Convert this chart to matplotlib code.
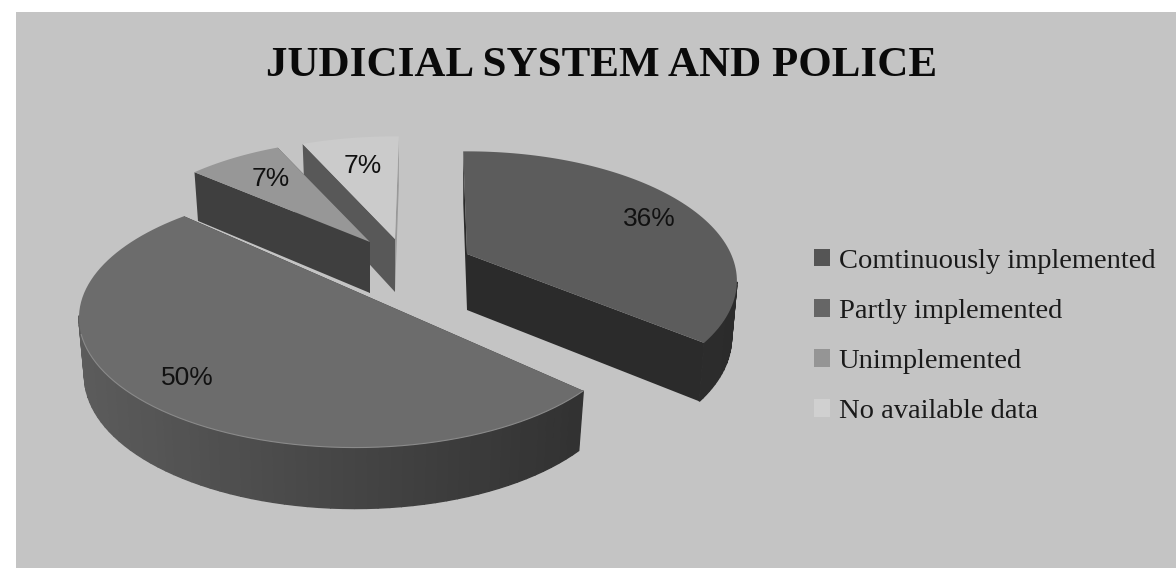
# Exploded 3D-look pie for the judicial system and police scores
import numpy as np
import matplotlib
matplotlib.use('Agg')
import matplotlib.pyplot as plt
from matplotlib.patches import Patch, Rectangle

# Data
categories = ['Comtinuously implemented', 'Partly implemented', 'Unimplemented', 'No available data']
shares = [36, 50, 7, 7]

# Wedge styling, one entry per category
apex_x = [467, 355, 370, 395]
apex_y = [254, 291, 242, 239]
half_width = [264, 270, 258, 268]
twist = [-1, 4, 0, 1]
depth = [56, 57, 51, 53]
top_color = ['#5c5c5c', '#6c6c6c', '#979797', '#cbcbcb']
cut_color = ['#2b2b2b', '#333333', '#3f3f3f', '#585858']
rim_left = [0.20, 0.36, 0.30, 0.55]
rim_right = [0.17, 0.18, 0.25, 0.60]
key_color = ['#555555', '#666666', '#959595', '#d0d0d0']

label_x = [649, 187, 271, 363]
label_y = [219, 378, 179, 166]

half_height = 124
persp = 0.208


def project(theta, a):
    # theta in degrees, clockwise from twelve o'clock, on the tilted disc
    t = np.radians(theta)
    w = 1 + persp * np.cos(t)
    return a * np.sin(t) / w, -half_height * np.cos(t) / w


def lower(x, y, theta, d):
    # matching point on the underside of the slab
    t = np.radians(theta)
    return 0.98 * x, y + d * (1 - 0.07 * np.cos(t))


fig = plt.figure(figsize=(11.76, 5.68), dpi=100, facecolor='white')
ax = fig.add_axes([0, 0, 1, 1])
ax.set_xlim(0, 1176)
ax.set_ylim(568, 0)
ax.axis('off')
ax.add_patch(Rectangle((16, 12), 1160, 556, color='#c4c4c4', lw=0, zorder=0))

edges = np.concatenate([[0], np.cumsum(shares)]) * 3.6

# back wedges first so the big slice overlaps them
for order, i in enumerate([3, 2, 1, 0]):
    base = 2 + order * 3
    cx, cy = apex_x[i], apex_y[i]
    a = half_width[i]
    angles = np.linspace(edges[i], edges[i + 1], 90) + twist[i]
    X, Y = project(angles, a)
    LX, LY = lower(X, Y, angles, depth[i])
    ax_, ay_ = lower(0.0, 0.0, 90.0, depth[i])

    # the two flat cut faces
    for j in [0, -1]:
        ax.fill(cx + np.array([0, X[j], LX[j], ax_]),
                cy + np.array([0, Y[j], LY[j], ay_]),
                color='#999999' if (i == 3 and j == -1) else cut_color[i],
                lw=0, zorder=base)

    # outer rim, shaded strip by strip; only the part facing the viewer
    span = 1.022 * a
    for j in range(len(angles) - 1):
        if np.cos(np.radians(angles[j])) > -0.21:
            continue
        g = np.interp(X[j], [-span, span], [rim_left[i], rim_right[i]])
        ax.fill(cx + np.array([X[j], X[j + 1], LX[j + 1], LX[j]]),
                cy + np.array([Y[j], Y[j + 1], LY[j + 1], LY[j]]),
                color=str(g), ec=str(g), lw=1.0, zorder=base + 1)

    # top face
    ax.fill(cx + np.concatenate([[0], X]), cy + np.concatenate([[0], Y]),
            color=top_color[i], lw=0, zorder=base + 2)

    # soft bevel along the front of the big slice
    if i == 1:
        front = (Y > 40)
        ax.plot(cx + X[front], cy + Y[front], color='#8a8a8a', lw=0.8, zorder=base + 2)

    ax.text(label_x[i], label_y[i], '%d%%' % shares[i], fontsize=19, family='Liberation Sans',
            color='#111111', ha='center', va='center', zorder=30)

ax.text(602, 66, 'JUDICIAL SYSTEM AND POLICE', fontsize=31, fontweight='bold',
        family='Liberation Serif', color='#0a0a0a', ha='center', va='center')

handles = [Patch(facecolor=c, edgecolor='none') for c in key_color]
ax.legend(handles, categories, loc='upper left', bbox_to_anchor=(808, 243),
          bbox_transform=ax.transData, frameon=False,
          prop={'family': 'Liberation Serif', 'size': 20.5},
          handlelength=0.58, handleheight=0.58, handletextpad=0.3,
          labelspacing=0.88, labelcolor='#1a1a1a', borderpad=0.2, borderaxespad=0)

plt.savefig('out.png', dpi=100)
